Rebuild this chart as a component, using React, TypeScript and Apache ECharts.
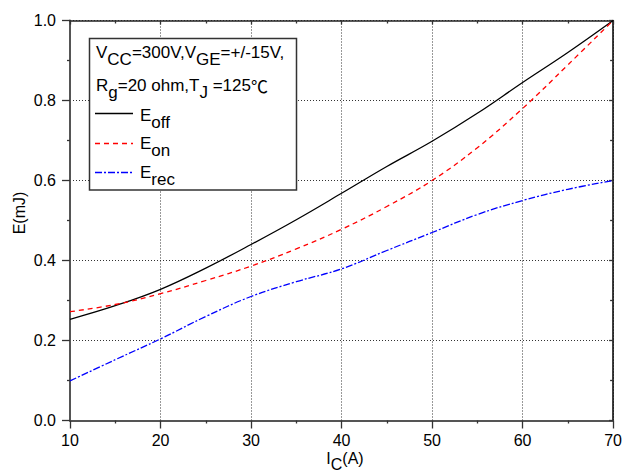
import React, { useEffect, useRef } from 'react';
import * as echarts from 'echarts';

const IC = [10, 15, 20, 25, 30, 35, 40, 45, 50, 55, 60, 65, 70];
const E_OFF = [0.253, 0.287, 0.328, 0.381, 0.44, 0.502, 0.568, 0.635, 0.698, 0.768, 0.845, 0.92, 1.0];
const E_ON = [0.272, 0.29, 0.317, 0.35, 0.386, 0.429, 0.478, 0.535, 0.6, 0.682, 0.78, 0.889, 1.0];
const E_REC = [0.099, 0.152, 0.204, 0.26, 0.31, 0.347, 0.379, 0.425, 0.47, 0.515, 0.55, 0.578, 0.6];

const X_MIN = 10, X_MAX = 70, X_STEP = 10;
const Y_MIN = 0, Y_MAX = 1, Y_STEP = 0.2;

type Part = [string, boolean, string?];
const LEGEND_LINE1: Part[] = [['V', false], ['CC', true], ['=300V,V', false], ['GE', true], ['=+/-15V,', false]];
const LEGEND_LINE2: Part[] = [['R', false], ['g', true], ['=20 ohm,T', false], ['J', true], [' =125', false], ['℃', false, 'cjk']];
const SERIES_LABELS: [string, string][] = [['E', 'off'], ['E', 'on'], ['E', 'rec']];
const X_NAME: Part[] = [['I', false], ['C', true], ['(A)', false]];
const Y_NAME = 'E(mJ)';

const FONT = '"Liberation Sans", Arial, sans-serif';
const CJK_FONT = '"Noto Sans CJK SC", sans-serif';

let ctx: CanvasRenderingContext2D | null = null;
function measure(text: string, size: number, font: string): number {
  if (!ctx) ctx = document.createElement('canvas').getContext('2d');
  if (!ctx) return text.length * size * 0.55;
  ctx.font = `${size}px ${font}`;
  return ctx.measureText(text).width;
}

function richLine(x: number, baseline: number, parts: Part[], size: number, drop: number) {
  const els: any[] = [];
  let cx = x;
  for (const [t, sub, f] of parts) {
    const font = f === 'cjk' ? CJK_FONT : FONT;
    const y = baseline - 0.32 * size + (sub ? drop : 0);
    els.push({
      type: 'text',
      x: cx,
      y,
      style: { text: t, fontSize: size, fontFamily: font, fill: '#000', align: 'left', verticalAlign: 'middle' },
      z: 100,
    });
    cx += measure(t, size, font);
  }
  return els;
}

export default function App() {
  const ref = useRef<HTMLDivElement>(null);
  useEffect(() => {
    document.body.style.margin = '0';
    if (!ref.current) return;
    const chart = echarts.init(ref.current, null, { renderer: 'svg' });

    const graphics: any[] = [];
    graphics.push({
      type: 'rect',
      shape: { x: 89.5, y: 38.5, width: 207, height: 151.5 },
      style: { fill: '#fff', stroke: '#333', lineWidth: 1.5 },
      z: 99,
    });
    graphics.push(...richLine(96, 57.5, LEGEND_LINE1, 17, 7));
    graphics.push(...richLine(96, 90.5, LEGEND_LINE2, 17, 7));
    const seriesStyles = [
      { stroke: '#000', lineDash: null as any, y: 113.5, base: 120.5 },
      { stroke: '#ff0000', lineDash: [5, 4], y: 143.5, base: 149 },
      { stroke: '#0000ff', lineDash: [7, 2, 2, 2], y: 172.5, base: 177.5 },
    ];
    SERIES_LABELS.forEach(([m, s], i) => {
      const st = seriesStyles[i];
      graphics.push({
        type: 'line',
        shape: { x1: 95, y1: st.y, x2: 133, y2: st.y },
        style: { stroke: st.stroke, lineWidth: 1.3, lineDash: st.lineDash },
        z: 100,
      });
      graphics.push(...richLine(140, st.base, [[m, false], [s, true]], 17, 7));
    });
    const xnw = X_NAME.reduce((a, [t]) => a + measure(t, 16, FONT), 0);
    graphics.push(...richLine(345 - xnw / 2, 464, X_NAME, 16, 6));
    graphics.push({
      type: 'text',
      x: 19,
      y: 213,
      rotation: Math.PI / 2,
      style: { text: Y_NAME, fontSize: 16, fontFamily: FONT, fill: '#000', align: 'center', verticalAlign: 'middle' },
    });

    const labelStyle = { fontSize: 16, fontFamily: FONT, color: '#000' };

    chart.setOption({
      animation: false,
      grid: { left: 70, right: 11, top: 20.5, bottom: 51.5, containLabel: false },
      xAxis: [
        {
          type: 'value', min: X_MIN, max: X_MAX, interval: X_STEP, position: 'bottom',
          axisLine: { show: true, onZero: false, lineStyle: { color: '#555', width: 2 } },
          axisTick: { show: true, inside: false, length: 8, lineStyle: { color: '#333', width: 1.3 } },
          minorTick: { show: true, splitNumber: 2, length: 3, lineStyle: { color: '#333', width: 1.3 } },
          axisLabel: { ...labelStyle, margin: 12, formatter: (v: number) => String(v) },
          splitLine: { show: true, lineStyle: { color: '#333', width: 1, type: [1, 2] } },
        },
        {
          type: 'value', min: X_MIN, max: X_MAX, interval: X_STEP, position: 'top',
          axisLine: { show: true, onZero: false, lineStyle: { color: '#222', width: 1.5 } },
          axisTick: { show: true, inside: true, length: 4, lineStyle: { color: '#333', width: 1.3 } },
          minorTick: { show: true, splitNumber: 2, length: 3, lineStyle: { color: '#333', width: 1.3 } },
          axisLabel: { show: false },
          splitLine: { show: false },
        },
      ],
      yAxis: [
        {
          type: 'value', min: Y_MIN, max: Y_MAX, interval: Y_STEP, position: 'left',
          axisLine: { show: true, onZero: false, lineStyle: { color: '#555', width: 2 } },
          axisTick: { show: true, inside: false, length: 8, lineStyle: { color: '#333', width: 1.3 } },
          minorTick: { show: true, splitNumber: 2, length: 3, lineStyle: { color: '#333', width: 1.3 } },
          axisLabel: { ...labelStyle, margin: 14, formatter: (v: number) => v.toFixed(1) },
          splitLine: { show: true, lineStyle: { color: '#333', width: 1, type: [1, 2] } },
        },
        {
          type: 'value', min: Y_MIN, max: Y_MAX, interval: Y_STEP, position: 'right',
          axisLine: { show: true, onZero: false, lineStyle: { color: '#000', width: 1.5 } },
          axisTick: { show: true, inside: true, length: 4, lineStyle: { color: '#333', width: 1.3 } },
          minorTick: { show: true, splitNumber: 2, length: 3, lineStyle: { color: '#333', width: 1.3 } },
          axisLabel: { show: false },
          splitLine: { show: false },
        },
      ],
      series: [
        {
          name: 'Eoff', type: 'line', smooth: 0.4, symbol: 'none',
          data: IC.map((x, i) => [x, E_OFF[i]]),
          lineStyle: { color: '#000', width: 1.3, type: 'solid' },
        },
        {
          name: 'Eon', type: 'line', smooth: 0.4, symbol: 'none',
          data: IC.map((x, i) => [x, E_ON[i]]),
          lineStyle: { color: '#ff0000', width: 1.3, type: [5, 4] },
        },
        {
          name: 'Erec', type: 'line', smooth: 0.4, symbol: 'none',
          data: IC.map((x, i) => [x, E_REC[i]]),
          lineStyle: { color: '#0000ff', width: 1.3, type: [7, 2, 2, 2] },
        },
      ],
      graphic: graphics,
    });
    return () => chart.dispose();
  }, []);
  return <div ref={ref} style={{ width: 625, height: 472 }} />;
}
